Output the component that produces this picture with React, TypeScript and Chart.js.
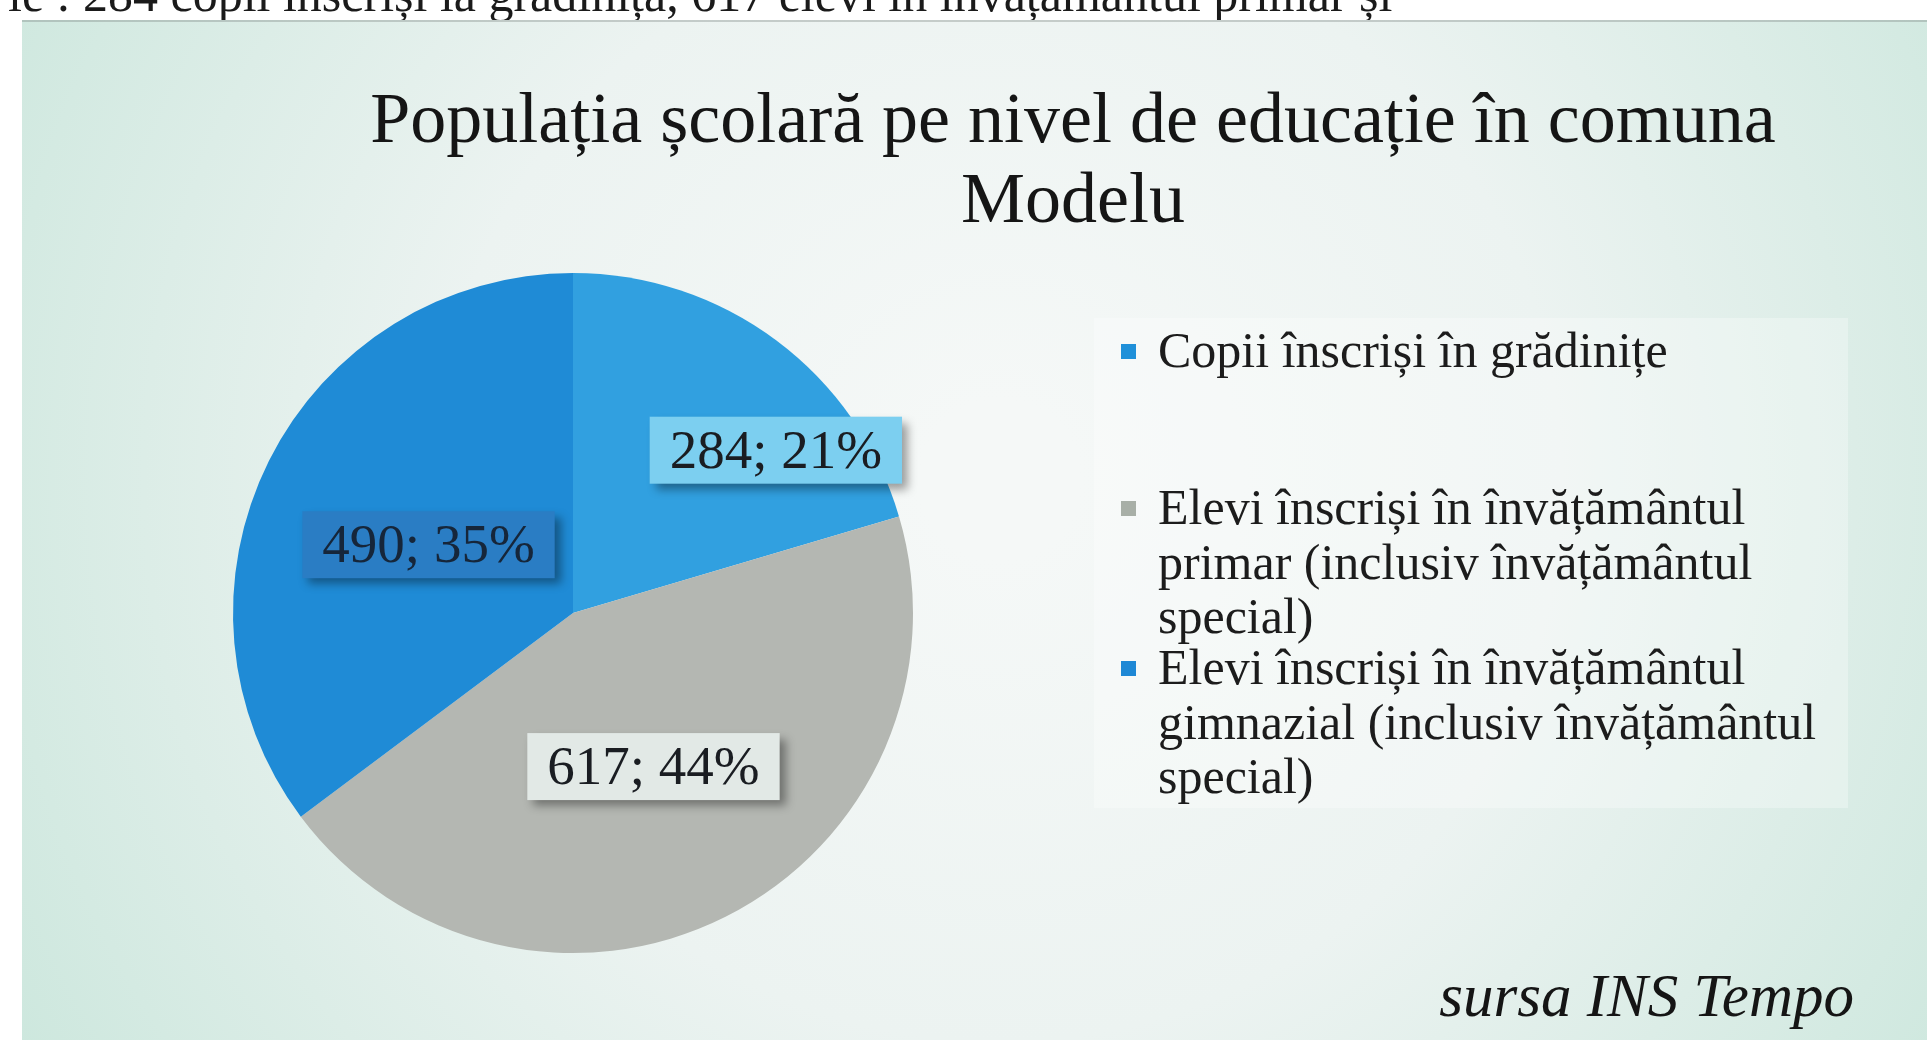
import React, { useEffect, useRef } from "react";
import { Chart, registerables } from "chart.js";

Chart.register(...registerables);

// ---- data ----
const categories = [
  "Copii înscriși în grădinițe",
  "Elevi înscriși în învățământul primar (inclusiv învățământul special)",
  "Elevi înscriși în învățământul gimnazial (inclusiv învățământul special)",
];
const legendLines = [
  ["Copii înscriși în grădinițe"],
  ["Elevi înscriși în învățământul", "primar (inclusiv învățământul", "special)"],
  ["Elevi înscriși în învățământul", "gimnazial (inclusiv învățământul", "special)"],
];
const values = [284, 617, 490];
const percentLabels = ["21%", "44%", "35%"];
const titleLines = ["Populația școlară pe nivel de educație în comuna", "Modelu"];
const sourceText = "sursa INS Tempo";
const headerText =
  "ie : 284 copii înscriși la grădiniță, 617 elevi în învățământul primar și";

// ---- style ----
const sliceColors = ["#31a0e0", "#b4b7b2", "#1f8bd6"];
const markerColors = ["#1f90d9", "#a8afa7", "#1e88d5"];
const labelBoxColors = ["#7ccff0", "#e2e9e6", "#2a7dc4"];
const labelTextColors = ["#1a1d22", "#1a1d22", "#16263a"];
const labelRadius = [0.765, 0.51, 0.47];
const labelAngleShift = [14.5, -1, -1.3]; // degrees
const SERIF = "'Liberation Serif', 'Times New Roman', serif";

const decorPlugin = {
  id: "decor",
  beforeDraw(chart: any) {
    const ctx = chart.ctx as CanvasRenderingContext2D;
    const W = chart.width;
    const H = chart.height;
    ctx.save();
    ctx.fillStyle = "#ffffff";
    ctx.fillRect(0, 0, W, H);
    // panel
    const px = 22, py = 20, pw = 1905, ph = H - py;
    const g = ctx.createRadialGradient(1000, 480, 80, 1000, 480, 1150);
    g.addColorStop(0, "#f5f8f7");
    g.addColorStop(0.45, "#ecf3f1");
    g.addColorStop(1, "#cce7dd");
    ctx.fillStyle = g;
    ctx.fillRect(px, py, pw, ph);
    ctx.fillStyle = "rgba(120,130,125,0.35)";
    ctx.fillRect(px, py, pw, 2);
    // header text (cut off)
    ctx.beginPath();
    ctx.rect(0, 0, W, py);
    ctx.clip();
    ctx.fillStyle = "#1a1a1a";
    ctx.font = `50px ${SERIF}`;
    ctx.textBaseline = "alphabetic";
    ctx.textAlign = "left";
    ctx.fillText(headerText, 8, 11);
    ctx.restore();

    // legend background
    ctx.save();
    ctx.fillStyle = "rgba(255,255,255,0.3)";
    ctx.fillRect(1094, 318, 754, 490);
    ctx.restore();
  },
  afterDraw(chart: any) {
    const ctx = chart.ctx as CanvasRenderingContext2D;
    ctx.save();
    // title
    ctx.fillStyle = "#151515";
    ctx.font = `72px ${SERIF}`;
    ctx.textAlign = "center";
    ctx.textBaseline = "alphabetic";
    ctx.fillText(titleLines[0], 1073, 142);
    ctx.fillText(titleLines[1], 1073, 222);

    // data labels
    const meta = chart.getDatasetMeta(0);
    ctx.font = `55px ${SERIF}`;
    meta.data.forEach((arc: any, i: number) => {
      const p = arc.getProps(["x", "y", "startAngle", "endAngle", "outerRadius"], true);
      const mid = (p.startAngle + p.endAngle) / 2 + (labelAngleShift[i] * Math.PI) / 180;
      const r = p.outerRadius * labelRadius[i];
      const cx = p.x + Math.cos(mid) * r;
      const cy = p.y + Math.sin(mid) * r;
      const text = `${values[i]}; ${percentLabels[i]}`;
      const tw = ctx.measureText(text).width;
      const bw = tw + 40;
      const bh = 67;
      ctx.save();
      ctx.shadowColor = "rgba(0,0,0,0.38)";
      ctx.shadowBlur = 9;
      ctx.shadowOffsetX = 6;
      ctx.shadowOffsetY = 6;
      ctx.fillStyle = labelBoxColors[i];
      ctx.fillRect(cx - bw / 2, cy - bh / 2, bw, bh);
      ctx.restore();
      ctx.fillStyle = labelTextColors[i];
      ctx.textAlign = "center";
      ctx.textBaseline = "middle";
      ctx.fillText(text, cx, cy + 3);
    });

    // legend
    const itemTops = [367, 524, 684];
    const lineGap = 54.5;
    ctx.textAlign = "left";
    ctx.textBaseline = "alphabetic";
    ctx.font = `50px ${SERIF}`;
    legendLines.forEach((lines, i) => {
      const base = itemTops[i];
      ctx.fillStyle = markerColors[i];
      ctx.fillRect(1121, base - 23, 15, 15);
      ctx.fillStyle = "#1c1c1c";
      lines.forEach((ln, j) => ctx.fillText(ln, 1158, base + j * lineGap));
    });

    // source
    ctx.font = `italic 61px ${SERIF}`;
    ctx.textAlign = "right";
    ctx.fillStyle = "#151515";
    ctx.fillText(sourceText, 1854, 1016);
    ctx.restore();
  },
};

export default function App() {
  const ref = useRef<HTMLCanvasElement>(null);
  useEffect(() => {
    document.body.style.margin = "0";
    const chart = new Chart(ref.current!, {
      type: "pie",
      data: {
        labels: categories,
        datasets: [
          {
            data: values,
            backgroundColor: sliceColors,
            borderWidth: 0,
          },
        ],
      },
      options: {
        animation: false,
        responsive: false,
        layout: { padding: { left: 233, top: 273, right: 1019, bottom: 87 } },
        plugins: {
          legend: { display: false },
          title: { display: false },
          tooltip: { enabled: false },
        },
      },
      plugins: [decorPlugin],
    });
    return () => chart.destroy();
  }, []);
  return (
    <div style={{ width: 1932, height: 1040, position: "relative" }}>
      <canvas ref={ref} width={1932} height={1040} />
    </div>
  );
}
